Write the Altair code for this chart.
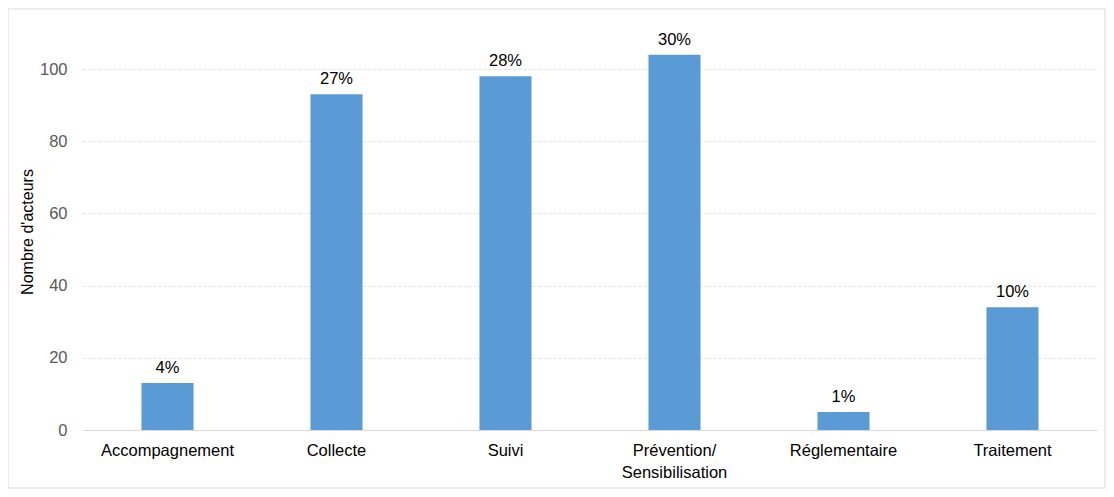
import altair as alt
import pandas as pd

categories = ["Accompagnement", "Collecte", "Suivi", "Prévention/ Sensibilisation", "Réglementaire", "Traitement"]
counts = [13, 93, 98, 104, 5, 34]
pct_labels = ["4%", "27%", "28%", "30%", "1%", "10%"]
y_ticks = [0, 20, 40, 60, 80, 100]

df = pd.DataFrame({"cat": categories, "n": counts, "pct": pct_labels})

W, H = 1014, 397
FONT = "Liberation Sans"

label_expr = "datum.value == 'Prévention/ Sensibilisation' ? ['Prévention/', 'Sensibilisation'] : datum.value"

x_enc = alt.X("cat:N", sort=categories,
              scale=alt.Scale(paddingInner=0.692, paddingOuter=0.346),
              axis=alt.Axis(title=None, labelAngle=0, labelFontSize=16.5, labelColor="#000000",
                            labelFont=FONT, labelPadding=12, ticks=False, domainColor="#d9d9d9",
                            domainWidth=1, labelExpr=label_expr, labelLineHeight=22,
                            labelBaseline="top"))
y_enc = alt.Y("n:Q", scale=alt.Scale(domain=[0, 110], nice=False),
              axis=alt.Axis(title="Nombre d'acteurs", values=y_ticks, labelFontSize=16.5,
                            labelColor="#595959", labelFont=FONT, labelPadding=16, ticks=False,
                            domain=False, grid=True, gridColor="#e3e3e3", gridDash=[3, 2],
                            titleFont=FONT, titleFontSize=16, titleFontWeight="normal",
                            titleColor="#000000", titleX=-56, titleY=H / 2, titleAngle=-90,
                            titleAlign="center", titleBaseline="middle"))

bars = alt.Chart(df).mark_bar(color="#5B9BD5").encode(x=x_enc, y=y_enc)
texts = alt.Chart(df).mark_text(baseline="bottom", dy=-7, fontSize=16.5, font=FONT,
                                color="#000000").encode(
    x=alt.X("cat:N", sort=categories), y="n:Q", text="pct:N")

frame = alt.Chart(alt.Data(values=[{"a": 1}])).mark_rect(
    fill=None, stroke="#d9d9d9", strokeWidth=1, clip=False).encode(
    x=alt.value(-75), x2=alt.value(W + 8), y=alt.value(-24), y2=alt.value(H + 58))

chart = alt.layer(frame, bars, texts).properties(
    width=W, height=H,
    background="white",
    autosize=alt.AutoSizeParams(type="none"),
    padding={"left": 75, "top": 25, "right": 9, "bottom": 59},
).configure_view(strokeWidth=0, stroke="transparent")

chart.save("out.html", embed_options={"renderer": "svg", "actions": False})
